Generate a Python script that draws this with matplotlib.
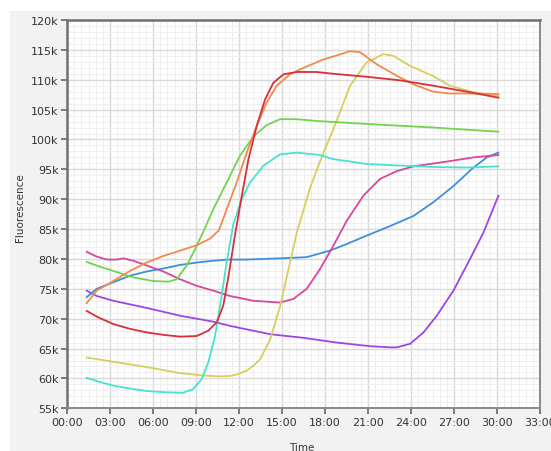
import matplotlib
matplotlib.use("Agg")
import matplotlib.pyplot as plt
from matplotlib.patches import Rectangle
from matplotlib.ticker import MultipleLocator

# ---------------- data (time in hours, fluorescence in thousands) ----------------
red_t = [1.37, 2.2, 3.23, 4.4, 5.56, 6.7, 7.9, 9.05, 9.86, 10.45, 10.9, 11.26, 11.72, 12.19, 12.66,
         13.24, 13.82, 14.4, 15.1, 16.03, 17.4, 18.58, 20.9, 23.24, 25.56, 27.9, 30.1]
red_v = [71.3, 70.2, 69.1, 68.3, 67.7, 67.3, 67.0, 67.1, 68.0, 69.4, 72.2, 77.0, 84.0, 90.5, 96.7,
         102.3, 106.7, 109.5, 110.9, 111.3, 111.3, 111.0, 110.5, 109.9, 109.0, 108.0, 107.0]

orange_t = [1.37, 2.07, 3.23, 4.4, 5.56, 6.72, 7.89, 9.05, 9.98, 10.6, 11.14, 11.84, 12.54, 13.24,
            13.93, 14.63, 15.56, 16.5, 17.9, 19.0, 19.75, 20.45, 21.6, 23.2, 24.4, 25.56, 26.7, 28.4, 30.1]
orange_v = [72.6, 74.7, 76.3, 78.0, 79.4, 80.5, 81.4, 82.3, 83.4, 84.8, 88.3, 92.8, 97.8, 102.3,
            106.2, 109.0, 110.9, 112.0, 113.4, 114.2, 114.8, 114.6, 112.6, 110.4, 109.0, 108.0, 107.7, 107.7, 107.6]

green_t = [1.37, 2.3, 3.23, 4.63, 6.03, 7.07, 7.65, 8.35, 8.93, 9.63, 10.2, 11.14, 12.07, 13.0,
           13.93, 14.86, 16.0, 17.4, 20.9, 25.56, 30.1]
green_v = [79.5, 78.7, 78.0, 76.9, 76.3, 76.2, 76.6, 78.9, 81.6, 85.2, 88.3, 92.8, 97.3, 100.5,
           102.4, 103.4, 103.4, 103.1, 102.6, 102.0, 101.3]

cyan_t = [1.37, 2.3, 3.23, 4.4, 5.56, 6.72, 8.1, 8.8, 9.4, 9.86, 10.33, 10.68, 11.14, 11.6, 12.19,
          12.77, 13.7, 14.86, 16.03, 17.65, 18.58, 19.52, 20.9, 22.54, 25.56, 27.9, 30.1]
cyan_v = [60.1, 59.4, 58.8, 58.3, 57.9, 57.7, 57.6, 58.2, 59.9, 62.7, 67.1, 72.2, 79.4, 85.8, 90.0,
          92.8, 95.6, 97.5, 97.8, 97.4, 96.7, 96.4, 95.9, 95.7, 95.4, 95.3, 95.5]

yellow_t = [1.37, 3.23, 5.56, 7.89, 9.51, 10.5, 11.37, 11.9, 12.54, 13.0, 13.47, 14.17, 14.86, 16.03,
            16.96, 17.89, 18.58, 19.75, 20.9, 22.07, 22.77, 23.94, 25.56, 26.7, 28.4, 30.1]
yellow_v = [63.5, 62.8, 61.9, 60.9, 60.5, 60.35, 60.4, 60.7, 61.3, 62.1, 63.2, 66.5, 72.0, 84.4,
            91.9, 97.8, 101.7, 109.0, 112.9, 114.3, 114.0, 112.3, 110.6, 109.0, 107.9, 107.3]

blue_t = [1.37, 2.07, 3.23, 4.4, 5.56, 6.72, 7.89, 9.05, 10.2, 11.26, 12.54, 14.86, 16.72, 18.35,
          19.52, 20.9, 22.54, 24.17, 25.56, 26.96, 28.35, 29.29, 30.1]
blue_v = [73.6, 75.0, 76.1, 77.2, 77.9, 78.4, 79.0, 79.4, 79.7, 79.9, 79.9, 80.1, 80.3, 81.4,
          82.5, 83.9, 85.5, 87.2, 89.5, 92.2, 95.3, 97.0, 97.8]

magenta_t = [1.37, 2.07, 2.77, 3.47, 3.93, 4.63, 5.56, 6.72, 7.89, 9.05, 10.2, 11.37, 13.0, 14.86,
             15.79, 16.72, 17.65, 18.58, 19.52, 20.68, 21.84, 23.0, 24.17, 26.5, 28.35, 30.1]
magenta_v = [81.2, 80.4, 79.9, 79.9, 80.1, 79.7, 78.9, 77.9, 76.6, 75.5, 74.7, 73.8, 73.0, 72.7,
             73.3, 75.0, 78.3, 82.2, 86.4, 90.6, 93.4, 94.7, 95.5, 96.3, 97.0, 97.4]

purple_t = [1.37, 2.07, 3.23, 5.56, 7.89, 10.2, 11.37, 14.17, 16.49, 18.82, 21.14, 22.54, 23.0,
            23.94, 24.87, 25.8, 26.96, 28.12, 29.05, 30.1]
purple_v = [74.7, 73.8, 73.0, 71.8, 70.5, 69.5, 68.8, 67.4, 66.8, 66.0, 65.4, 65.2, 65.2,
            65.8, 67.7, 70.5, 74.7, 80.0, 84.4, 90.6]

x_ticks = [0, 3, 6, 9, 12, 15, 18, 21, 24, 27, 30, 33]
x_labels = ["00:00", "03:00", "06:00", "09:00", "12:00", "15:00", "18:00",
            "21:00", "24:00", "27:00", "30:00", "33:00"]
y_ticks = [55, 60, 65, 70, 75, 80, 85, 90, 95, 100, 105, 110, 115, 120]
y_labels = [f"{v}k" for v in y_ticks]

series = [
    (purple_t, purple_v, "#9b47e6"),
    (blue_t, blue_v, "#3d8fdc"),
    (magenta_t, magenta_v, "#d8479c"),
    (yellow_t, yellow_v, "#d6cf5c"),
    (cyan_t, cyan_v, "#45e3d0"),
    (green_t, green_v, "#72d44c"),
    (orange_t, orange_v, "#f38a4c"),
    (red_t, red_v, "#d92f3c"),
]

# ---------------- figure ----------------
fig = plt.figure(figsize=(5.51, 4.52), dpi=100)
fig.patch.set_facecolor("white")
bg = Rectangle((10 / 551, 0), 1, 1 - 12 / 452, transform=fig.transFigure,
               facecolor="#f2f2f2", edgecolor="none", zorder=-10)
fig.add_artist(bg)

ax = fig.add_axes([67 / 551, 1 - 409.3 / 452, (540 - 67) / 551, (409.3 - 21) / 452])
ax.set_zorder(1)
ax.set_facecolor("white")

for t, v, c in series:
    ax.plot(t, v, color=c, lw=1.3, solid_joinstyle="round", zorder=3)

ax.set_xlim(0, 33)
ax.set_ylim(55, 120)
ax.set_xticks(x_ticks)
ax.set_xticklabels(x_labels)
ax.set_yticks(y_ticks)
ax.set_yticklabels(y_labels)
ax.xaxis.set_minor_locator(MultipleLocator(0.5))
ax.yaxis.set_minor_locator(MultipleLocator(1))

ax.grid(which="major", color="#d9d9d9", lw=1.0, zorder=1)
ax.grid(which="minor", color="#ededed", lw=0.6, zorder=1)
ax.set_axisbelow(True)

ax.tick_params(which="major", direction="out", length=4, width=1.2, color="#666666",
               labelsize=8, labelcolor="#333333", pad=2)
ax.tick_params(which="minor", length=0)

for side in ["left", "top"]:
    ax.spines[side].set_color("#707070")
    ax.spines[side].set_linewidth(1.8)
for side in ["right", "bottom"]:
    ax.spines[side].set_color("#8a8a8a")
    ax.spines[side].set_linewidth(1.4)

fig.text(20 / 551, 1 - 208 / 452, "Fluorescence", rotation=90, ha="center", va="center",
         fontsize=7.5, color="#333333", zorder=2)
fig.text(302 / 551, 1 - 448 / 452, "Time", ha="center", va="center",
         fontsize=7.5, color="#333333", zorder=2)

fig.savefig("out.png", dpi=100, facecolor=fig.get_facecolor())
